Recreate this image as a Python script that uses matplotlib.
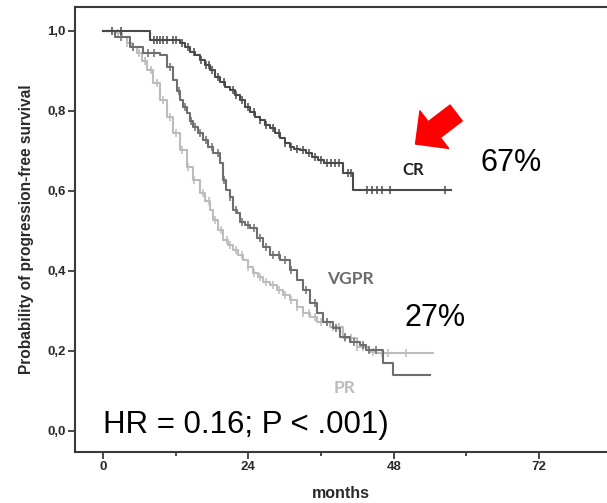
import numpy as np
import matplotlib.pyplot as plt
from matplotlib.ticker import MultipleLocator, FuncFormatter

# Kaplan-Meier step estimates (months, survival probability)
cr_t = [0, 7.75, 12.7, 13.5, 14.4, 15.2, 16, 16.8, 17.7, 18.5, 19.3, 20.1, 21,
        21.8, 22.6, 23.5, 24.3, 25.1, 25.9, 26.8, 27.6, 28.4, 29.2, 30, 30.8,
        31.6, 32.5, 33.5, 34.5, 35.5, 36.5, 39.6, 41.3, 57.5]
cr_s = [1.0, 0.9775, 0.97, 0.96, 0.9475, 0.94, 0.9275, 0.915, 0.9025, 0.885,
        0.8725, 0.86, 0.8525, 0.84, 0.8275, 0.81, 0.7975, 0.785, 0.7775, 0.765,
        0.7575, 0.745, 0.7325, 0.72, 0.71, 0.705, 0.7025, 0.695, 0.685, 0.6775,
        0.67, 0.645, 0.6025, 0.6025]
cr_cens = [1.5, 3, 8.5, 9, 9.5, 10, 10.5, 11.5, 12, 13, 14, 15, 16.2, 17, 17.5,
           18, 19, 20, 21.5, 22, 23, 24, 25, 26, 27, 28, 29, 30, 31, 32, 33, 34,
           35, 36, 37, 37.7, 38.3, 39, 40.5, 41, 43.6, 44.4, 45.2, 46, 47.4, 56.4]

vgpr_t = [0, 2, 4.5, 6.6, 9.4, 10.5, 11.6, 12.2, 12.7, 13.3, 13.9, 14.4, 14.9,
          15.7, 16.5, 17.3, 18.2, 19.3, 19.8, 20.4, 21, 21.5, 22.1, 22.6, 23.5,
          24.3, 25.4, 26.4, 27.6, 29.2, 30.9, 32, 33, 34.2, 35.3, 36.3, 38, 39.1,
          40.8, 42.4, 43.5, 46.2, 47.9, 54]
vgpr_s = [1.0, 0.985, 0.96, 0.945, 0.94, 0.91, 0.8775, 0.85, 0.8275, 0.81, 0.795,
          0.775, 0.76, 0.745, 0.7275, 0.71, 0.695, 0.67, 0.6275, 0.6025, 0.585,
          0.5525, 0.545, 0.5225, 0.515, 0.5075, 0.4825, 0.46, 0.44, 0.4275,
          0.4025, 0.3775, 0.3525, 0.32, 0.295, 0.2725, 0.2575, 0.235, 0.2225,
          0.215, 0.2025, 0.17, 0.14, 0.14]
vgpr_cens = [3, 5, 7.5, 8.5, 11, 12.5, 13.5, 14.5, 15.2, 16, 17, 18, 19, 20, 21,
             22, 23, 24, 25, 26, 27, 28, 29, 30, 31, 33.5, 35, 37, 38.5, 40, 41.5,
             43, 44, 45]

pr_t = [0, 2.3, 3.2, 4, 4.8, 5.6, 6.5, 7.3, 8.3, 9.4, 10.5, 11.6, 12.7, 13.9,
        14.9, 16, 16.8, 17.7, 18.2, 19, 19.8, 20.6, 21.5, 22.3, 23.1, 24, 24.8,
        25.6, 26.4, 27.5, 28.7, 29.8, 30.9, 32, 33, 34.2, 35.3, 37.5, 39.6, 41.9,
        44, 45, 54.5]
pr_s = [1.0, 0.995, 0.985, 0.97, 0.96, 0.945, 0.925, 0.9025, 0.87, 0.8275, 0.785,
        0.745, 0.7025, 0.66, 0.6275, 0.595, 0.575, 0.5525, 0.5275, 0.5025, 0.4775,
        0.465, 0.4525, 0.44, 0.4275, 0.41, 0.395, 0.385, 0.3725, 0.365, 0.3525,
        0.34, 0.3275, 0.31, 0.295, 0.285, 0.2725, 0.26, 0.2325, 0.21, 0.1975,
        0.195, 0.195]
pr_cens = [2.5, 4, 5, 6, 7, 8, 9, 10, 11, 12, 13, 14, 15, 16.5, 17.5, 18.5, 19.5,
           20.5, 21, 22, 23, 24, 25, 26, 27, 28, 29, 30, 31, 32, 33, 34, 35, 36,
           37, 38, 39, 40, 41, 42, 43, 44.5, 46, 47, 50]

groups = [
    ("PR", pr_t, pr_s, pr_cens, "#bcbcbc"),
    ("VGPR", vgpr_t, vgpr_s, vgpr_cens, "#6e6e6e"),
    ("CR", cr_t, cr_s, cr_cens, "#4a4a4a"),
]


def surv_at(times, surv, t):
    idx = np.searchsorted(times, t, side="right") - 1
    return np.asarray(surv)[idx]


fig = plt.figure(figsize=(6.07, 5.03), dpi=100)
ax = fig.add_axes([0.1236, 0.1014, 0.8764, 0.8847])

for name, t, s, cens, col in groups:
    ax.step(t, s, where="post", color=col, lw=1.5)
    ax.plot(cens, surv_at(t, s, cens), ls="none", marker="|", ms=6,
            mew=1.1, color=col)

ax.set_xlim(-4.6, 83.2)
ax.set_ylim(-0.0525, 1.06)

ax.xaxis.set_major_locator(MultipleLocator(24))
ax.xaxis.set_minor_locator(MultipleLocator(12))
ax.yaxis.set_major_locator(MultipleLocator(0.2))
ax.yaxis.set_major_formatter(FuncFormatter(lambda v, p: f"{v:.1f}".replace(".", ",")))

ax.spines["right"].set_visible(False)
for side in ["left", "bottom", "top"]:
    ax.spines[side].set_color("#3a3a3a")
    ax.spines[side].set_linewidth(1.5)

ax.tick_params(axis="both", which="major", length=5, width=1.3, color="#3a3a3a",
               pad=1.5, labelsize=9.5)
ax.tick_params(axis="x", which="minor", length=3, width=1.3, color="#3a3a3a")
for lab in ax.get_xticklabels() + ax.get_yticklabels():
    lab.set_fontweight("bold")
    lab.set_family("Liberation Sans")
    lab.set_color("#2a2a2a")

ax.set_ylabel("Probability of progression-free survival", fontsize=11.2,
              fontweight="bold", family="Liberation Sans", color="#2a2a2a",
              labelpad=10)
ax.set_xlabel("months", fontsize=11.5, fontweight="bold", family="Liberation Sans",
              color="#2a2a2a", labelpad=9)

# group labels
ax.text(51.2, 0.6525, "CR", ha="center", va="center", fontsize=12,
        fontweight="bold", family="Lato", color="#222222")
ax.text(40.8, 0.38, "VGPR", ha="center", va="center", fontsize=12.5,
        fontweight="bold", family="Lato", color="#6b6b6b")
ax.text(39.9, 0.1075, "PR", ha="center", va="center", fontsize=12.5,
        fontweight="bold", family="Lato", color="#bcbcbc")

ax.text(67.3, 0.67, "67%", ha="center", va="center", fontsize=22,
        family="Liberation Sans", color="black")
ax.text(54.8, 0.2825, "27%", ha="center", va="center", fontsize=22,
        family="Liberation Sans", color="black")
ax.text(0, 0.015, "HR = 0.16; P < .001)", ha="left", va="center", fontsize=22.5,
        family="Liberation Sans", color="black")

ax.annotate("", xy=(51.6, 0.7175), xytext=(58.3, 0.795),
            arrowprops=dict(arrowstyle="simple,head_length=0.85,head_width=1.7,tail_width=0.72",
                            color="red", mutation_scale=20, shrinkA=0, shrinkB=0))

fig.savefig("out.png", dpi=100)
